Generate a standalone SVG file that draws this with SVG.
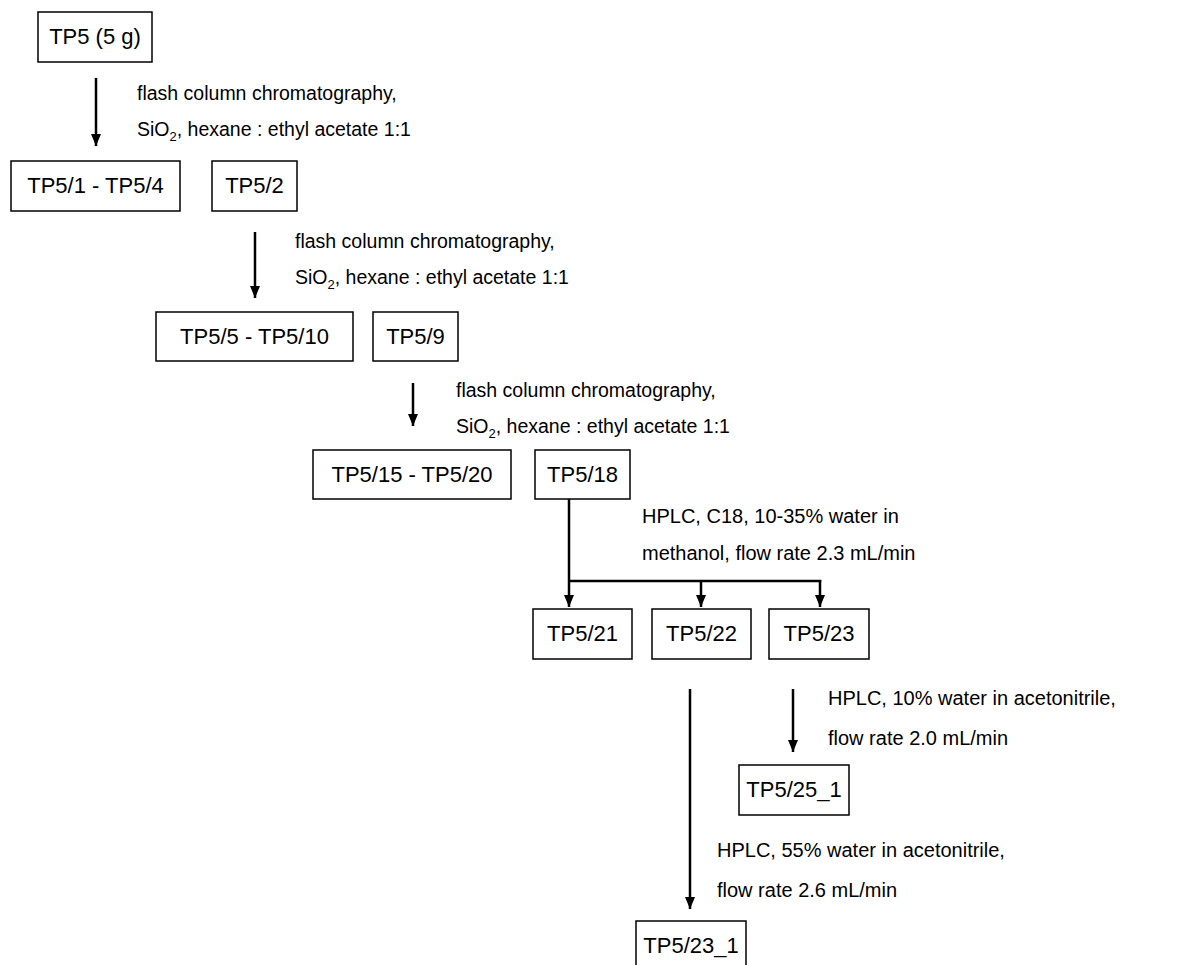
<svg xmlns="http://www.w3.org/2000/svg" width="1200" height="965" viewBox="0 0 1200 965">
<defs>
<marker id="ah" viewBox="0 0 12 10" refX="12" refY="5" markerUnits="userSpaceOnUse" markerWidth="12" markerHeight="10" orient="auto">
<path d="M0,0 L12,5 L0,10 Z" fill="#000"/>
</marker>
<style>
.box{fill:#fff;stroke:#000;stroke-width:1.5}
.lbl{font-family:"Liberation Sans",Arial,sans-serif;font-size:20px;fill:#000}
.fl{font-size:19.5px}
.c{text-anchor:middle;font-size:22px}
.ln{stroke:#000;stroke-width:2.5;fill:none}
.sub{font-size:13px}
</style>
</defs>
<rect width="1200" height="965" fill="#fff"/>
<g id="connectors">
<line class="ln" x1="96" y1="78" x2="96" y2="146" marker-end="url(#ah)"/>
<line class="ln" x1="255" y1="232" x2="255" y2="298" marker-end="url(#ah)"/>
<line class="ln" x1="413" y1="383" x2="413" y2="426" marker-end="url(#ah)"/>
<line class="ln" x1="569" y1="499" x2="569" y2="607" marker-end="url(#ah)"/>
<line class="ln" x1="569" y1="581" x2="821.25" y2="581"/>
<line class="ln" x1="701" y1="581" x2="701" y2="607" marker-end="url(#ah)"/>
<line class="ln" x1="820" y1="580" x2="820" y2="607" marker-end="url(#ah)"/>
<line class="ln" x1="690" y1="689" x2="690" y2="909" marker-end="url(#ah)"/>
<line class="ln" x1="793" y1="689" x2="793" y2="752" marker-end="url(#ah)"/>
</g>
<g id="labels">
<text class="lbl fl" x="137" y="100">flash column chromatography,</text>
<text class="lbl fl" x="137" y="136">SiO<tspan class="sub" dy="5">2</tspan><tspan dy="-5">, hexane : ethyl acetate 1:1</tspan></text>
<text class="lbl fl" x="295" y="248">flash column chromatography,</text>
<text class="lbl fl" x="295" y="284">SiO<tspan class="sub" dy="5">2</tspan><tspan dy="-5">, hexane : ethyl acetate 1:1</tspan></text>
<text class="lbl fl" x="456" y="397">flash column chromatography,</text>
<text class="lbl fl" x="456" y="433">SiO<tspan class="sub" dy="5">2</tspan><tspan dy="-5">, hexane : ethyl acetate 1:1</tspan></text>
<text class="lbl" x="642" y="523">HPLC, C18, 10-35% water in</text>
<text class="lbl" x="642" y="560">methanol, flow rate 2.3 mL/min</text>
<text class="lbl" x="828" y="705">HPLC, 10% water in acetonitrile,</text>
<text class="lbl" x="828" y="745">flow rate 2.0 mL/min</text>
<text class="lbl" x="717" y="857">HPLC, 55% water in acetonitrile,</text>
<text class="lbl" x="717" y="897">flow rate 2.6 mL/min</text>
</g>
<g id="n1"><rect class="box" x="38" y="12" width="114" height="50"/><text class="lbl c" x="95" y="44">TP5 (5 g)</text></g>
<g id="n2"><rect class="box" x="11" y="161" width="169" height="50"/><text class="lbl c" x="95.5" y="193">TP5/1 - TP5/4</text></g>
<g id="n3"><rect class="box" x="212" y="161" width="85" height="50"/><text class="lbl c" x="254.5" y="193">TP5/2</text></g>
<g id="n4"><rect class="box" x="156" y="312" width="197" height="49"/><text class="lbl c" x="254.5" y="344">TP5/5 - TP5/10</text></g>
<g id="n5"><rect class="box" x="373" y="312" width="85" height="49"/><text class="lbl c" x="415.5" y="344">TP5/9</text></g>
<g id="n6"><rect class="box" x="313" y="450" width="198" height="49"/><text class="lbl c" x="412" y="482">TP5/15 - TP5/20</text></g>
<g id="n7"><rect class="box" x="535" y="450" width="95" height="49"/><text class="lbl c" x="582.5" y="482">TP5/18</text></g>
<g id="n8"><rect class="box" x="533" y="609" width="99" height="50"/><text class="lbl c" x="582.5" y="641">TP5/21</text></g>
<g id="n9"><rect class="box" x="652" y="609" width="99" height="50"/><text class="lbl c" x="701.5" y="641">TP5/22</text></g>
<g id="n10"><rect class="box" x="769" y="609" width="100" height="50"/><text class="lbl c" x="819" y="641">TP5/23</text></g>
<g id="n11"><rect class="box" x="739" y="765" width="110" height="50"/><text class="lbl c" x="794" y="797">TP5/25_1</text></g>
<g id="n12"><rect class="box" x="636" y="921" width="110" height="50"/><text class="lbl c" x="691" y="953">TP5/23_1</text></g>
</svg>
